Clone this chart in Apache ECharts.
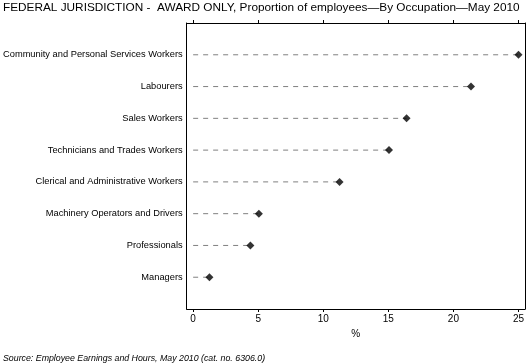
<!DOCTYPE html>
<html><head><meta charset="utf-8">
<script src="https://cdn.jsdelivr.net/npm/echarts@6/dist/echarts.min.js"></script>
<style>html,body{margin:0;padding:0;background:#fff}#c{width:529px;height:363px}</style>
</head><body><div id="c"></div>
<script>
var categories = ["Managers","Professionals","Machinery Operators and Drivers","Clerical and Administrative Workers","Technicians and Trades Workers","Sales Workers","Labourers","Community and Personal Services Workers"];
var values = [1.25, 4.4, 5.05, 11.25, 15.05, 16.4, 21.35, 25.0];
var xTicks = [0, 5, 10, 15, 20, 25];
var titleText = "FEDERAL JURISDICTION -  AWARD ONLY, Proportion of employees\u2014By Occupation\u2014May 2010";
var sourceText = "Source: Employee Earnings and Hours, May 2010 (cat. no. 6306.0)";

var font = "'Liberation Sans', Arial, sans-serif";
var pos = categories.map(function(c, i){ return i + 1; });
var data = values.map(function(v, i){ return [v, i + 1]; });

var chart = echarts.init(document.getElementById('c'), null, {renderer:'canvas'});
chart.setOption({
  animation: false,
  backgroundColor: '#fff',
  title: [{
    text: titleText, left: 3, top: 2, padding: 0,
    textStyle: {fontFamily: font, fontSize: 11.8, fontWeight: 'normal', color: '#000'}
  }, {
    text: sourceText, left: 3, top: 354, padding: 0,
    textStyle: {fontFamily: font, fontSize: 8.8, fontWeight: 'normal', fontStyle: 'italic', color: '#000'}
  }],
  grid: {left: 186, right: 4, top: 23, bottom: 54, containLabel: false},
  xAxis: [{
    type: 'value', min: -0.5, max: 25.5, position: 'bottom',
    name: '%', nameLocation: 'middle', nameGap: 20,
    nameTextStyle: {fontFamily: font, fontSize: 10, color: '#000'},
    axisLine: {show: true, onZero: false, lineStyle: {color: '#000', width: 1}},
    axisTick: {show: true, length: 3, customValues: xTicks, lineStyle: {color: '#000'}},
    axisLabel: {customValues: xTicks, fontFamily: font, fontSize: 10, color: '#000', margin: 5},
    splitLine: {show: false}
  }, {
    type: 'value', min: -0.5, max: 25.5, position: 'top',
    axisLine: {show: true, onZero: false, lineStyle: {color: '#000', width: 1}},
    axisTick: {show: true, length: 3, customValues: xTicks, lineStyle: {color: '#000'}},
    axisLabel: {show: false},
    splitLine: {show: false}
  }],
  yAxis: [{
    type: 'value', min: 0, max: 9, position: 'left',
    axisLine: {show: true, onZero: false, lineStyle: {color: '#000', width: 1}},
    axisTick: {show: false},
    axisLabel: {
      customValues: pos, fontFamily: font, fontSize: 9.3, color: '#000', margin: 4,
      formatter: function(v){ return categories[Math.round(v) - 1] || ''; }
    },
    splitLine: {show: false}
  }, {
    type: 'value', min: 0, max: 9, position: 'right',
    axisLine: {show: true, onZero: false, lineStyle: {color: '#000', width: 1}},
    axisTick: {show: false}, axisLabel: {show: false}, splitLine: {show: false}
  }],
  series: [{
    type: 'custom',
    data: data,
    renderItem: function(params, api){
      var p0 = api.coord([0, api.value(1)]);
      var p1 = api.coord([api.value(0), api.value(1)]);
      return {
        type: 'line',
        shape: {x1: p0[0], y1: p0[1], x2: p1[0], y2: p1[1]},
        style: {stroke: '#808080', lineWidth: 1, lineDash: [5, 5]}
      };
    },
    z: 1
  }, {
    type: 'scatter',
    data: data,
    symbol: 'diamond',
    symbolSize: 8,
    itemStyle: {color: '#000'},
    z: 2
  }]
});
</script>
</body></html>
